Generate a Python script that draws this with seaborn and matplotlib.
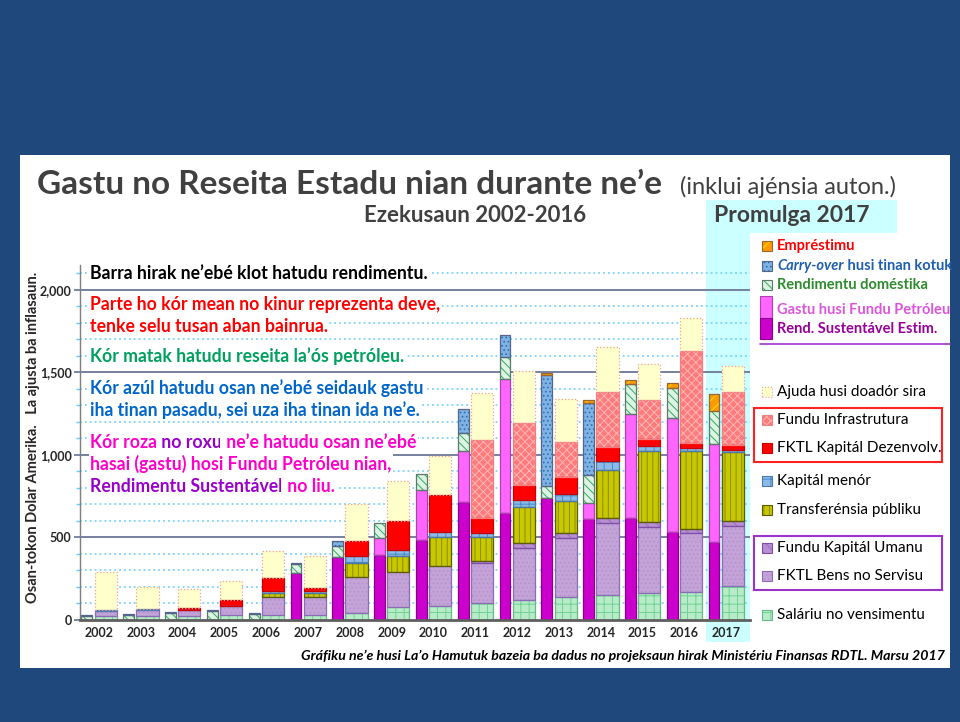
import numpy as np
import pandas as pd
import matplotlib
matplotlib.use('Agg')
import matplotlib.pyplot as plt
import matplotlib.patches as mpatches
import seaborn as sns

years = [str(y) for y in range(2002, 2018)]

# revenue bar (left, narrow), bottom to top
rend_sust = [0, 0, 0, 0, 0, 287, 384, 394, 485, 713, 646, 740, 612, 620, 535, 475]
pet_fund = [0, 0, 0, 0, 0, 0, 0, 101, 303, 313, 812, 0, 99, 626, 691, 590]
domestic = [25, 32, 42, 52, 38, 55, 65, 91, 95, 109, 133, 70, 166, 184, 182, 202]
carry_over = [3, 6, 5, 6, 6, 5, 32, 0, 0, 141, 135, 677, 440, 0, 0, 0]
loan = [0, 0, 0, 0, 0, 0, 0, 0, 0, 0, 0, 10, 16, 24, 30, 101]

# expenditure bar (right, wide), bottom to top
salary = [25, 25, 25, 28, 30, 30, 44, 81, 85, 101, 121, 137, 152, 166, 172, 206]
bens = [30, 35, 35, 55, 111, 111, 218, 212, 244, 246, 313, 358, 434, 396, 354, 364]
umanu = [0, 0, 0, 0, 0, 0, 0, 0, 0, 12, 30, 30, 34, 30, 24, 30]
transfer = [0, 0, 0, 0, 20, 24, 85, 95, 172, 141, 218, 196, 289, 432, 471, 420]
menor = [3, 5, 2, 3, 16, 12, 40, 36, 34, 28, 44, 40, 57, 32, 20, 10]
fktl_dev = [0, 0, 8, 35, 79, 14, 91, 176, 222, 91, 95, 107, 85, 38, 34, 30]
infra = [0, 0, 0, 0, 0, 0, 0, 0, 0, 471, 374, 212, 333, 242, 552, 323]
ajuda = [232, 135, 120, 115, 162, 198, 222, 242, 236, 283, 315, 257, 269, 218, 202, 156]

yticks = [0, 500, 1000, 1500, 2000]
ytick_labels = ['0', '500', '1,000', '1,500', '2,000']

sns.set_theme(style='white')
plt.rcParams['font.family'] = ['Lato', 'DejaVu Sans']
plt.rcParams['hatch.linewidth'] = 0.7

W, H = 960, 722
def fx(px):
    return px / W
def fy(py):
    return 1 - py / H

fig = plt.figure(figsize=(9.6, 7.22), dpi=100)
fig.patch.set_facecolor('#1F497D')
# white slide panel + cyan "2017" highlight
fig.add_artist(mpatches.Rectangle((fx(20), fy(668)), fx(950) - fx(20), fy(155) - fy(668),
                                  transform=fig.transFigure, facecolor='white', edgecolor='none', zorder=-3))
fig.add_artist(mpatches.Rectangle((fx(706), fy(233)), fx(897) - fx(706), fy(200) - fy(233),
                                  transform=fig.transFigure, facecolor='#CCFFFF', edgecolor='none', zorder=-2))
fig.add_artist(mpatches.Rectangle((fx(706), fy(642)), fx(750) - fx(706), fy(233) - fy(642),
                                  transform=fig.transFigure, facecolor='#CCFFFF', edgecolor='none', zorder=-2))

ax = fig.add_axes([fx(80), fy(620), fx(750) - fx(80), fy(265) - fy(620)])
ax.set_facecolor('none')

x = np.arange(len(years))
ax.set_xlim(-0.455, 15.57)
ax.set_ylim(0, 2151)

# grid: solid every 500, dotted every 100
for v in range(100, 2200, 100):
    if v % 500 == 0:
        ax.axhline(v, color='#6B7799', lw=1.3, zorder=1)
    else:
        ax.axhline(v, color='#66CCFF', lw=1.1, ls=(0, (1.2, 2)), zorder=1)


def stack(xpos, width, layers):
    bottom = np.zeros(len(years))
    for vals, fc, hatch, hc, oc, ls in layers:
        vals = np.array(vals, dtype=float)
        m = vals > 0
        ax.bar(xpos[m], vals[m], width, bottom=bottom[m], color=fc, hatch=hatch,
               edgecolor=hc, linewidth=0, zorder=3)
        ax.bar(xpos[m], vals[m], width, bottom=bottom[m], facecolor='none',
               edgecolor=oc, linewidth=0.9, linestyle=ls, zorder=4)
        bottom += vals


rev_layers = [
    (rend_sust, '#CC00CC', None, '#CC00CC', '#8B008B', '-'),
    (pet_fund, '#FF66FF', None, '#FF66FF', '#B040B0', '-'),
    (domestic, '#DDF3E3', '\\\\\\\\', '#2EAA5F', '#5A7A6A', '-'),
    (carry_over, '#7FB2E5', '....', '#2F6FB0', '#556688', '-'),
    (loan, '#FF9900', '///', '#FFE000', '#996633', '-'),
]
exp_layers = [
    (salary, '#B8EBC8', '++', '#6FD394', '#66BB88', '-'),
    (bens, '#C4A4D8', '....', '#B592CC', '#8E6BB8', '-'),
    (umanu, '#B690D0', '\\\\\\', '#9A6CC0', '#8050A8', '-'),
    (transfer, '#C8C800', '|||', '#8C8C00', '#5C5C00', '-'),
    (menor, '#8DBBE8', '++', '#4A8AD0', '#4A7AB0', '-'),
    (fktl_dev, '#FF0000', None, '#FF0000', '#CC0000', '-'),
    (infra, '#FF7A7A', 'xxxx', '#FFB8B8', '#F08080', '-'),
    (ajuda, '#FFFFCC', None, '#FFFFCC', '#F0A0A0', ':'),
]
stack(x - 0.29, 0.26, rev_layers)
stack(x + 0.16, 0.53, exp_layers)

# axes styling
ax.set_yticks(yticks)
ax.set_yticklabels(ytick_labels, fontsize=9, fontweight='bold')
ax.set_yticks(range(100, 2200, 100), minor=True)
ax.tick_params(axis='y', which='major', length=4, color='#6B7799', left=True, pad=2)
ax.tick_params(axis='y', which='minor', length=3, color='#66CCFF', left=True)
ax.set_xticks(x)
ax.set_xticklabels(years, fontsize=9, fontweight='bold')
ax.tick_params(axis='x', length=0, pad=5)
for s in ['top', 'right']:
    ax.spines[s].set_visible(False)
ax.spines['left'].set_color('#7F7F7F')
ax.spines['left'].set_linewidth(1)
ax.spines['bottom'].set_color('#5F5F5F')
ax.spines['bottom'].set_linewidth(2)
ax.spines['left'].set_zorder(5)
ax.spines['bottom'].set_zorder(5)


def ax_xy(px, py):
    return ((px - 80) / 670, (620 - py) / 355)


box = dict(facecolor='white', edgecolor='none', pad=1)


def line_text(px, py, parts, size=12.7):
    prev = None
    for txt, col in parts:
        if prev is None:
            prev = ax.text(*ax_xy(px, py), txt, transform=ax.transAxes, color=col,
                           fontsize=size, fontweight='bold', va='center', ha='left',
                           bbox=box, zorder=6)
        else:
            prev = ax.annotate(txt, xy=(1, 0), xycoords=prev, va='bottom', ha='left',
                               color=col, fontsize=size, fontweight='bold', bbox=box,
                               zorder=6, annotation_clip=False)


RED, GRN, BLU, MAG, PUR = '#FF0000', '#00A060', '#0066CC', '#FF00CC', '#9900CC'
line_text(90, 274, [("Barra hirak ne’ebé klot hatudu rendimentu.", '#000000')])
line_text(90, 305, [("Parte ho kór mean no kinur reprezenta deve,", RED)])
line_text(90, 327, [("tenke selu tusan aban bainrua.", RED)])
line_text(90, 356, [("Kór matak hatudu reseita la’ós petróleu.", GRN)])
line_text(90, 388, [("Kór azúl hatudu osan ne’ebé seidauk gastu", BLU)])
line_text(90, 410, [("iha tinan pasadu, sei uza iha tinan ida ne’e.", BLU)])
line_text(90, 442, [("Kór roza", MAG), (" no roxu", PUR), (" ne’e hatudu osan ne’ebé", MAG)])
line_text(90, 464, [("hasai (gastu) hosi Fundu Petróleu nian,", MAG)])
line_text(90, 486, [("Rendimentu Sustentável", PUR), (" no liu.", MAG)])

# titles
fig.text(fx(37), fy(185), 'Gastu no Reseita Estadu nian durante ne’e', fontsize=24,
         fontweight='bold', color='#404040', va='center', ha='left')
fig.text(fx(680), fy(187), '(inklui ajénsia auton.)', fontsize=17, color='#404040',
         va='center', ha='left')
fig.text(fx(475), fy(216), 'Ezekusaun 2002-2016', fontsize=16, fontweight='bold',
         color='#404040', va='center', ha='center')
fig.text(fx(714), fy(216), 'Promulga 2017', fontsize=16.5, fontweight='bold',
         color='#404040', va='center', ha='left')
fig.text(fx(945), fy(656), 'Gráfiku ne’e husi La’o Hamutuk bazeia ba dadus no projeksaun hirak '
         'Ministériu Finansas RDTL. Marsu 2017', fontsize=10.2, fontweight='bold',
         fontstyle='italic', color='#000000', va='center', ha='right')
fig.text(fx(33), fy(437), 'Osan-tokon Dolar Amerika.   La ajusta ba inflasaun.', fontsize=10.5,
         fontweight='bold', rotation=90, va='center', ha='center')


# legend (drawn by hand)
def swatch(x0, y0, x1, y1, layer):
    _, fc, hatch, hc, oc, ls = layer
    fig.add_artist(mpatches.Rectangle((fx(x0), fy(y1)), fx(x1) - fx(x0), fy(y0) - fy(y1),
                                      transform=fig.transFigure, facecolor=fc, hatch=hatch,
                                      edgecolor=hc, linewidth=0))
    fig.add_artist(mpatches.Rectangle((fx(x0), fy(y1)), fx(x1) - fx(x0), fy(y0) - fy(y1),
                                      transform=fig.transFigure, facecolor='none',
                                      edgecolor=oc, linewidth=0.8, linestyle=ls))


swatch(762, 241, 772, 251, rev_layers[4])
fig.text(fx(777), fy(246), 'Empréstimu', color='#FF0000', fontsize=10.5, fontweight='bold', va='center')
swatch(762, 261, 772, 271, rev_layers[3])
t = fig.text(fx(777), fy(266), 'Carry-over', color='#1F5FAF', fontsize=10.5, fontweight='bold',
             fontstyle='italic', va='center')
ax.annotate(' husi tinan kotuk', xy=(1, 0), xycoords=t, va='bottom', color='#1F5FAF',
            fontsize=10.5, fontweight='bold', annotation_clip=False)
swatch(762, 280, 772, 290, rev_layers[2])
fig.text(fx(777), fy(285), 'Rendimentu doméstika', color='#2E8B2E', fontsize=10.5,
         fontweight='bold', va='center')
swatch(760, 296, 772, 318, rev_layers[1])
fig.text(fx(777), fy(310), 'Gastu husi Fundu Petróleu', color='#DD55DD', fontsize=10.5,
         fontweight='bold', va='center')
swatch(760, 318, 772, 339, rev_layers[0])
fig.text(fx(777), fy(329), 'Rend. Sustentável Estim.', color='#990099', fontsize=10.5,
         fontweight='bold', va='center')
fig.add_artist(plt.Line2D([fx(760), fx(950)], [fy(344), fy(344)], color='#9933CC', lw=1.2))

exp_legend = [
    (392, 'Ajuda husi doadór sira', exp_layers[7]),
    (420, 'Fundu Infrastrutura', exp_layers[6]),
    (448, 'FKTL Kapitál Dezenvolv.', exp_layers[5]),
    (481, 'Kapitál menór', exp_layers[4]),
    (510, 'Transferénsia públiku', exp_layers[3]),
    (548, 'Fundu Kapitál Umanu', exp_layers[2]),
    (576, 'FKTL Bens no Servisu', exp_layers[1]),
    (615, 'Saláriu no vensimentu', exp_layers[0]),
]
for py, label, layer in exp_legend:
    swatch(762, py - 5, 772, py + 5, layer)
    fig.text(fx(777), fy(py), label, color='#000000', fontsize=11, va='center')

fig.add_artist(mpatches.Rectangle((fx(754), fy(462)), fx(942) - fx(754), fy(408) - fy(462),
                                  transform=fig.transFigure, facecolor='none',
                                  edgecolor='#FF2020', linewidth=1.5))
fig.add_artist(mpatches.Rectangle((fx(754), fy(590)), fx(942) - fx(754), fy(536) - fy(590),
                                  transform=fig.transFigure, facecolor='none',
                                  edgecolor='#9933CC', linewidth=1.5))

fig.savefig('out.png', dpi=100, facecolor=fig.get_facecolor())
